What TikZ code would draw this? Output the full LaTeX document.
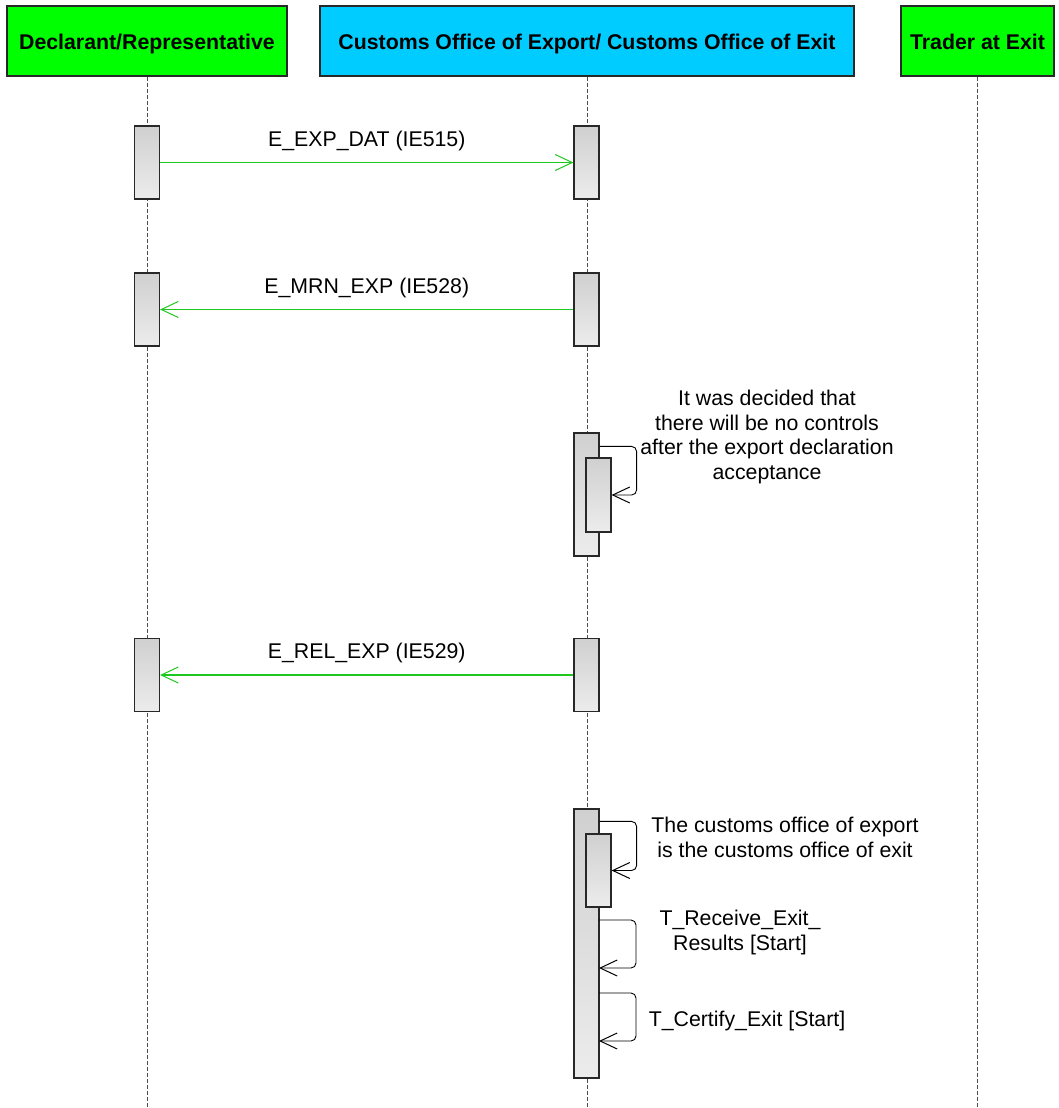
\documentclass[tikz,border=0pt]{standalone}
\usepackage{fontspec}
\setmainfont{Liberation Sans}
\usetikzlibrary{arrows.meta,calc}
\definecolor{hdrgreen}{RGB}{0,255,0}
\definecolor{hdrcyan}{RGB}{0,204,255}
\definecolor{msggreen}{RGB}{30,200,30}
\definecolor{acttop}{RGB}{208,208,208}
\definecolor{actbot}{RGB}{236,236,236}
\definecolor{edge}{RGB}{40,40,40}
\tikzset{
  txt/.style={font=\fontsize{21.3}{24.5}\selectfont, inner sep=0pt, align=center},
  hdr/.style={draw=edge, line width=1.2pt, minimum height=70pt, inner sep=0pt, text height=17.5pt, text depth=0pt, font=\fontsize{21.3}{24.5}\selectfont\bfseries},
  life/.style={draw=black!70, line width=1pt, dash pattern=on 4pt off 2pt},
  act/.style={draw=edge, line width=1.2pt, top color=acttop, bottom color=actbot, minimum width=25pt, inner sep=0pt},
  tip/.style={-{Straight Barb[length=17pt,width=16pt,line width=1pt]}},
  msg/.style={draw=msggreen, line width=1.2pt, tip},
  selfmsg/.style={draw=black, line width=0.9pt, rounded corners=5pt, tip}
}
\begin{document}
\begin{tikzpicture}[x=1pt,y=-1pt]
\useasboundingbox (0,0) rectangle (1059,1108);
% headers
\node[hdr, fill=hdrgreen, minimum width=280pt] (h1) at (147,41) {Declarant/Representative};
\node[hdr, fill=hdrcyan, minimum width=534pt] (h2) at (587,41) {Customs Office of Export/ Customs Office of Exit};
\node[hdr, fill=hdrgreen, minimum width=153pt] (h3) at (977.5,41) {Trader at Exit};
% lifelines
\coordinate (e1) at (147,1108);
\coordinate (e2) at (587,1108);
\coordinate (e3) at (977.5,1108);
\draw[life] (h1.south) -- (e1);
\draw[life] (h2.south) -- (e2);
\draw[life] (h3.south) -- (e3);
% message 1
\node[act, minimum height=73pt] (a1) at (147,162.5) {};
\node[act, minimum height=73pt] (b1) at (586.5,162.5) {};
\draw[msg] (a1.east) -- (b1.west) node[txt, midway, above=11pt] {E\_EXP\_DAT (IE515)};
% message 2
\node[act, minimum height=73pt] (a2) at (147,309.5) {};
\node[act, minimum height=73pt] (b2) at (586.5,309.5) {};
\draw[msg] (b2.west) -- (a2.east) node[txt, midway, above=11pt] {E\_MRN\_EXP (IE528)};
% self message block 3
\node[act, minimum height=123pt] (c3) at (586.5,494.5) {};
\node[act, minimum height=74pt] (d3) at (598.5,495) {};
\draw[selfmsg] ($(c3.north east)+(0,14)$) -- ++(37,0) |- (d3.east);
\node[txt] (t3) at (767,437) {It was decided that\\there will be no controls\\after the export declaration\\acceptance};
% message 4
\node[act, minimum height=73pt] (a4) at (147,675) {};
\node[act, minimum height=73pt] (b4) at (586.5,675) {};
\draw[msg] (b4.west) -- (a4.east) node[txt, midway, above=11pt] {E\_REL\_EXP (IE529)};
% self message block 5
\node[act, minimum height=269pt] (c5) at (586.5,943.5) {};
\node[act, minimum height=73pt] (d5) at (598.5,870.5) {};
\draw[selfmsg] ($(c5.north east)+(0,13)$) -- ++(37,0) |- (d5.east);
\node[txt] (t5) at (785,837.5) {The customs office of export\\is the customs office of exit};
\coordinate (s6a) at (599,920);
\coordinate (s6b) at (599,968);
\draw[selfmsg] (s6a) -- ++(37,0) |- (s6b);
\node[txt] (t6) at (740,932.5) {T\_Receive\_Exit\_\\Results [Start]};
\coordinate (s7a) at (599,993);
\coordinate (s7b) at (599,1041);
\draw[selfmsg] (s7a) -- ++(37,0) |- (s7b);
\node[txt] (t7) at (747,1021) {T\_Certify\_Exit [Start]};
\end{tikzpicture}
\end{document}
